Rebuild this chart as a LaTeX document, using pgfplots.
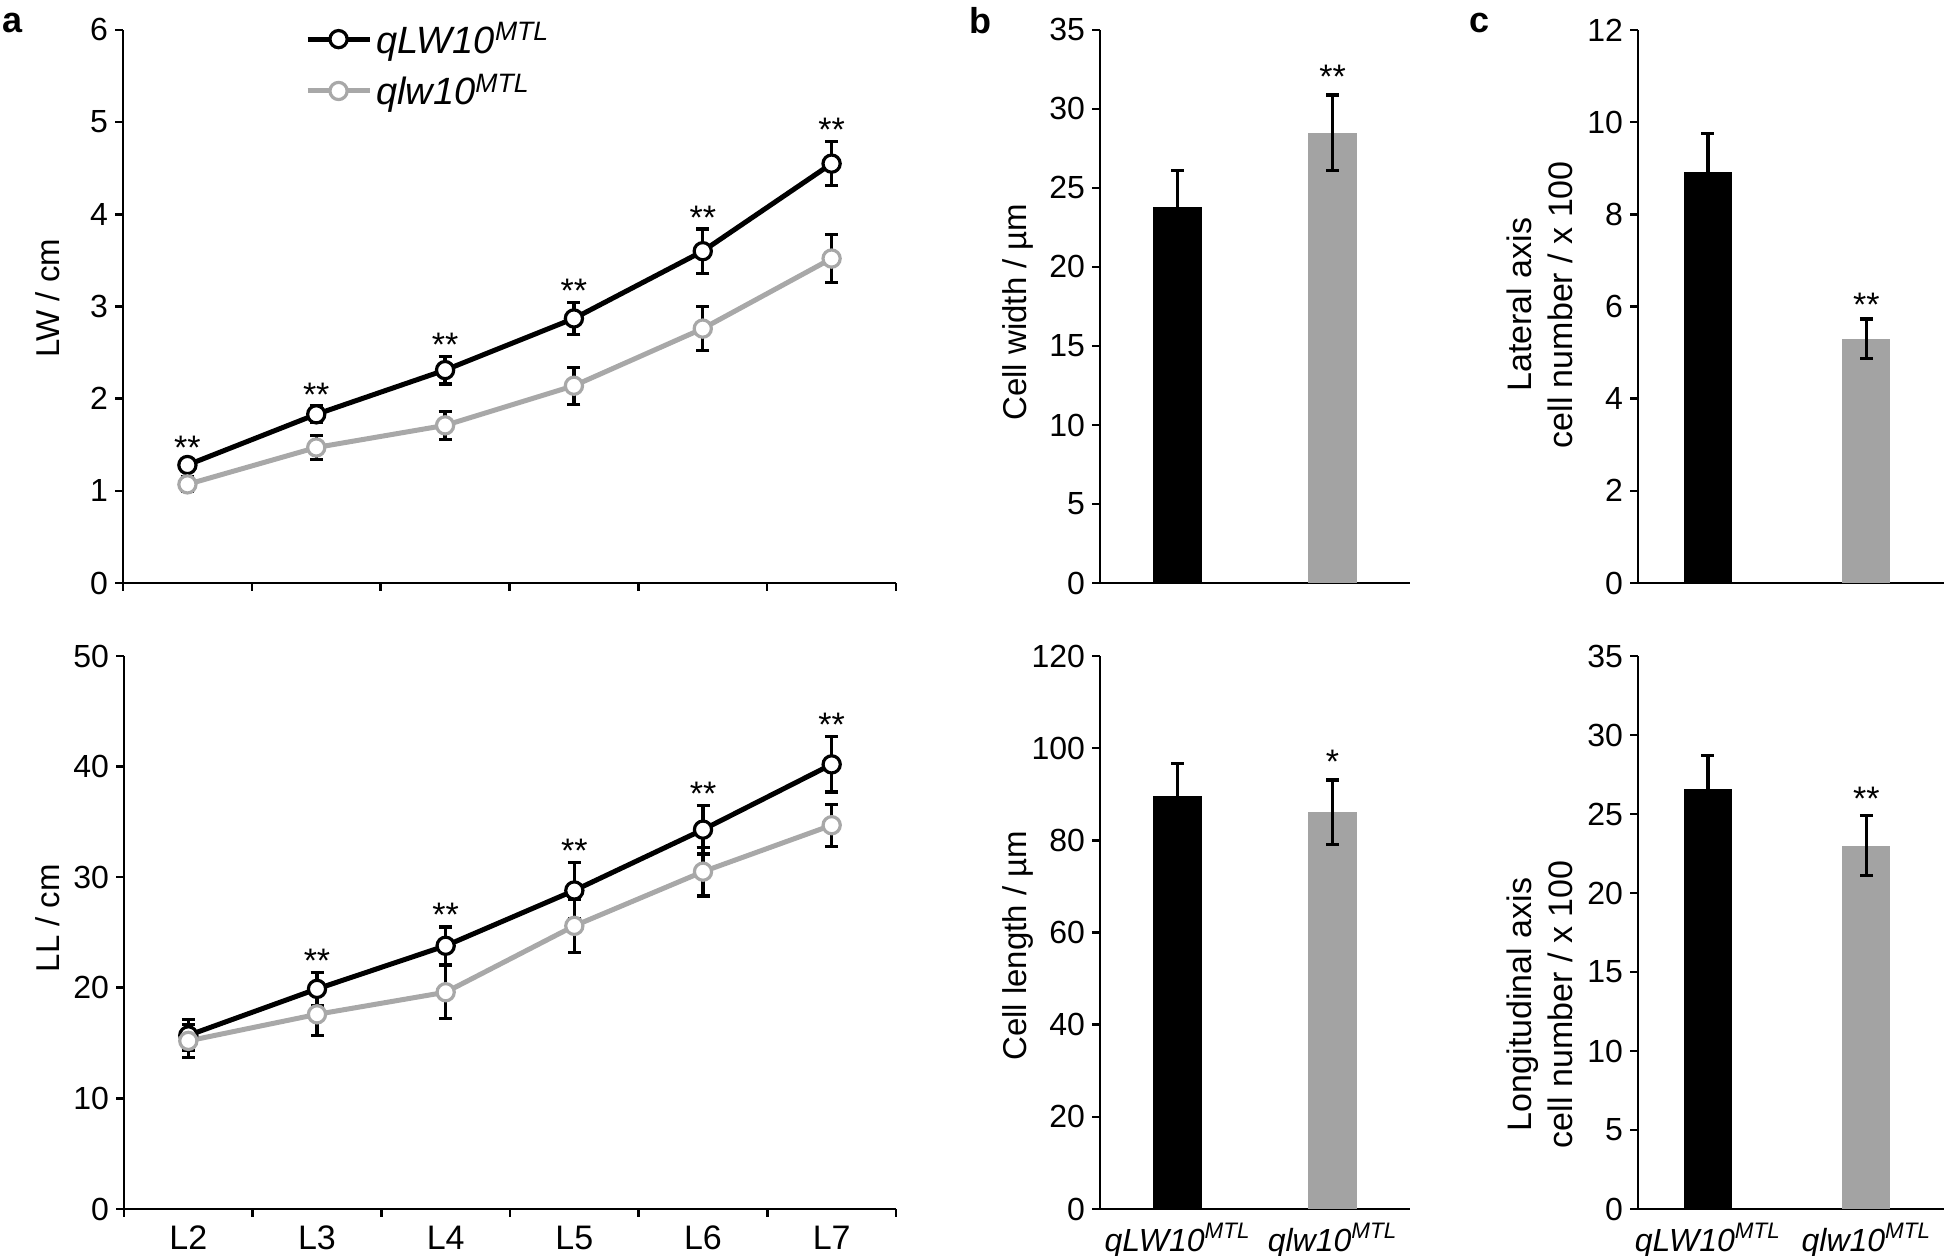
\documentclass[border=0pt]{standalone}
\usepackage{pgfplots}
\pgfplotsset{compat=1.18}
\usepackage{fontspec}
\setmainfont{Liberation Sans}
\definecolor{lgray}{RGB}{168,168,168}
\definecolor{bargray}{RGB}{163,163,163}
\tikzset{sigstar/.style={font=\fontsize{17}{19}\selectfont, anchor=base}}

\pgfplotsset{
  base/.style={
    scale only axis,
    axis x line*=bottom, axis y line*=left,
    axis line style={line width=1.3pt, -},
    every tick/.style={line width=1.3pt, black},
    tick align=outside,
    major tick length=4pt,
    /pgf/number format/assume math mode=true,
    ticklabel style={font=\fontsize{16}{19}\selectfont},
    ymin=0,
    clip=false,
    ylabel style={anchor=center},
  },
  lineerr/.style={error bars/.cd, y dir=both, y explicit,
    error bar style={line width=1.6pt, black},
    error mark options={rotate=90, line width=1.6pt, mark size=3.25pt, black}},
  barerr/.style={error bars/.cd, y dir=both, y explicit,
    error bar style={line width=1.8pt, black},
    error mark options={rotate=90, line width=1.8pt, mark size=3.25pt, black}},
  blackline/.style={black, line width=2.5pt, mark=*, mark size=4.3pt,
    mark options={fill=white, draw=black, line width=1.6pt, solid}},
  grayline/.style={lgray, line width=2.5pt, mark=*, mark size=4.3pt,
    mark options={fill=white, draw=lgray, line width=1.6pt, solid}},
  catx/.style={xmin=-0.5, xmax=5.5, xtick={-0.5,0.5,...,5.5}, xticklabels={}},
  barx/.style={xtick={0,1}, x tick style={draw=none},
    xticklabels={\textit{qLW10}\textsuperscript{\textit{MTL}}, \textit{qlw10}\textsuperscript{\textit{MTL}}},
    xticklabel style={font=\fontsize{16}{19}\selectfont, anchor=base, yshift=-17pt}},
}

\begin{document}
\begin{tikzpicture}
\path[use as bounding box] (0,0) rectangle (973pt,628pt);

% ---------------- panel a top: LW
\begin{axis}[base, catx, at={(61.5pt,336.5pt)}, anchor=south west,
  width=386.5pt, height=276.5pt,
  ymax=6, ytick={0,1,...,6},
  ylabel={LW / cm}, ylabel style={at={(axis description cs:-0.098,0.515)}, font=\fontsize{16.5}{19}\selectfont},
  legend style={at={(axis description cs:0.235,1.022)}, anchor=north west, draw=none, fill=none,
    font=\fontsize{19}{22}\selectfont, row sep=5pt, inner sep=0pt},
  legend cell align=left,
  legend image code/.code={\draw[mark repeat=2,mark phase=2,#1] plot coordinates {(0pt,0pt) (15.5pt,0pt) (31pt,0pt)};},
]
\addplot[blackline, lineerr] coordinates {
 (0,1.28) +- (0,0.06) (1,1.83) +- (0,0.09) (2,2.31) +- (0,0.15)
 (3,2.87) +- (0,0.17) (4,3.60) +- (0,0.24) (5,4.55) +- (0,0.24)};
\addlegendentry{\textit{qLW10}\textsuperscript{\textit{MTL}}}
\addplot[grayline, lineerr] coordinates {
 (0,1.07) +- (0,0.08) (1,1.47) +- (0,0.13) (2,1.71) +- (0,0.15)
 (3,2.14) +- (0,0.20) (4,2.76) +- (0,0.24) (5,3.52) +- (0,0.26)};
\addlegendentry{\textit{qlw10}\textsuperscript{\textit{MTL}}}
\foreach \x/\y in {0/1.34,1/1.92,2/2.46,3/3.04,4/3.84,5/4.79}{
  \edef\tmp{\noexpand\node[sigstar] at (axis cs:\x,\y) {**};}\tmp}
\end{axis}

% ---------------- panel a bottom: LL
\begin{axis}[base, catx, at={(62pt,23.5pt)}, anchor=south west,
  width=386pt, height=276.5pt,
  ymax=50, ytick={0,10,...,50},
  extra x ticks={0,1,2,3,4,5}, extra x tick labels={L2,L3,L4,L5,L6,L7},
  extra x tick style={major tick length=0pt, xticklabel style={font=\fontsize{17}{19}\selectfont, anchor=base, yshift=-20pt}},
  ylabel={LL / cm}, ylabel style={at={(axis description cs:-0.099,0.526)}, font=\fontsize{16.5}{19}\selectfont},
]
\addplot[blackline, lineerr] coordinates {
 (0,15.7) +- (0,1.4) (1,19.9) +- (0,1.5) (2,23.8) +- (0,1.7)
 (3,28.8) +- (0,2.5) (4,34.3) +- (0,2.2) (5,40.2) +- (0,2.5)};
\addplot[grayline, lineerr] coordinates {
 (0,15.2) +- (0,1.5) (1,17.6) +- (0,1.9) (2,19.6) +- (0,2.4)
 (3,25.6) +- (0,2.4) (4,30.5) +- (0,2.2) (5,34.7) +- (0,1.9)};
\foreach \x/\y in {1/21.4,2/25.5,3/31.3,4/36.5,5/42.7}{
  \edef\tmp{\noexpand\node[sigstar] at (axis cs:\x,\y) {**};}\tmp}
\end{axis}

% ---------------- panel b top: cell width
\begin{axis}[base, barx, at={(550pt,336.5pt)}, anchor=south west,
  width=155pt, height=276.5pt, xmin=-0.5, xmax=1.5,
  ymax=35, ytick={0,5,...,35}, xticklabels={},
  ylabel={Cell width / µm}, ylabel style={at={(axis description cs:-0.265,0.49)}, font=\fontsize{16.5}{19}\selectfont},
]
\addplot[ybar, bar width=24.5pt, bar shift=0pt, fill=black, draw=none, barerr] coordinates {(0,23.8) +- (0,2.3)};
\addplot[ybar, bar width=24.5pt, bar shift=0pt, fill=bargray, draw=none, barerr] coordinates {(1,28.5) +- (0,2.4)};
\node[sigstar] at (axis cs:1,31.3) {**};
\end{axis}

% ---------------- panel b bottom: cell length
\begin{axis}[base, barx, at={(550pt,23.5pt)}, anchor=south west,
  width=155pt, height=276.5pt, xmin=-0.5, xmax=1.5,
  ymax=120, ytick={0,20,...,120},
  ylabel={Cell length / µm}, ylabel style={at={(axis description cs:-0.265,0.476)}, font=\fontsize{16.5}{19}\selectfont},
]
\addplot[ybar, bar width=24.5pt, bar shift=0pt, fill=black, draw=none, barerr] coordinates {(0,89.7) +- (0,7.0)};
\addplot[ybar, bar width=24.5pt, bar shift=0pt, fill=bargray, draw=none, barerr] coordinates {(1,86.1) +- (0,7.0)};
\node[sigstar] at (axis cs:1,94.5) {*};
\end{axis}

% ---------------- panel c top: lateral axis
\begin{axis}[base, barx, at={(819pt,336.5pt)}, anchor=south west,
  width=153pt, height=276.5pt, xmin=-0.44, xmax=1.49,
  ymax=12, ytick={0,2,...,12}, xticklabels={},
  ylabel={Lateral axis\\cell number / x 100}, ylabel style={align=center, at={(axis description cs:-0.322,0.503)}, font=\fontsize{17}{20.5}\selectfont},
]
\addplot[ybar, bar width=24pt, bar shift=0pt, fill=black, draw=none, barerr] coordinates {(0,8.92) +- (0,0.83)};
\addplot[ybar, bar width=24pt, bar shift=0pt, fill=bargray, draw=none, barerr] coordinates {(1,5.3) +- (0,0.43)};
\node[sigstar] at (axis cs:1,5.78) {**};
\end{axis}

% ---------------- panel c bottom: longitudinal axis
\begin{axis}[base, barx, at={(819pt,23.5pt)}, anchor=south west,
  width=153pt, height=276.5pt, xmin=-0.44, xmax=1.49,
  ymax=35, ytick={0,5,...,35},
  ylabel={Longitudinal axis\\cell number / x 100}, ylabel style={align=center, at={(axis description cs:-0.322,0.37)}, font=\fontsize{17}{20.5}\selectfont},
]
\addplot[ybar, bar width=24pt, bar shift=0pt, fill=black, draw=none, barerr] coordinates {(0,26.6) +- (0,2.1)};
\addplot[ybar, bar width=24pt, bar shift=0pt, fill=bargray, draw=none, barerr] coordinates {(1,23.0) +- (0,1.9)};
\node[sigstar] at (axis cs:1,25.2) {**};
\end{axis}

% panel letters
\node[font=\bfseries\fontsize{18}{20}\selectfont] at (6.5pt,616.5pt) {a};
\node[font=\bfseries\fontsize{18}{20}\selectfont] at (490pt,617.5pt) {b};
\node[font=\bfseries\fontsize{18}{20}\selectfont] at (739.5pt,616.5pt) {c};
\end{tikzpicture}
\end{document}
